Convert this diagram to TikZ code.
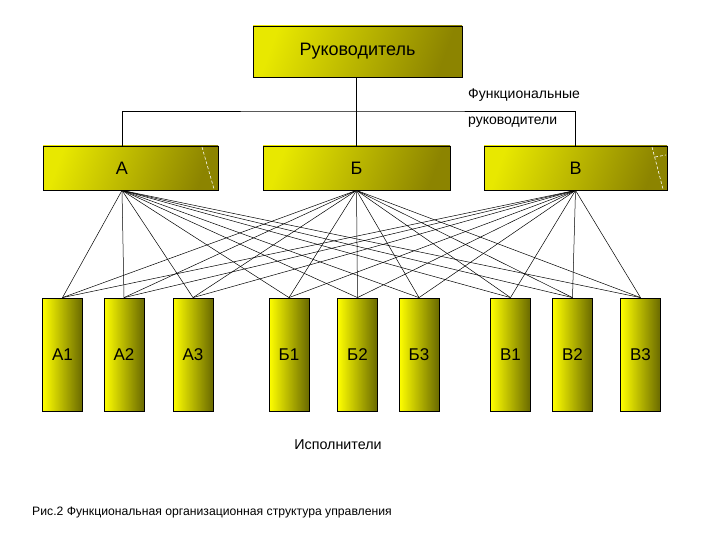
\documentclass[tikz,border=0pt]{standalone}
\usepackage{fontspec}
\setmainfont{Liberation Sans}
\usepackage{xcolor}
\usepackage{tikz}
\usetikzlibrary{
    positioning,
    calc
}
\definecolor{headYellow}{RGB}{232, 232, 0}
\definecolor{headOlive}{RGB}{140, 132, 0}
\definecolor{unitYellow}{RGB}{255, 255, 0}
\definecolor{unitOlive}{RGB}{105, 105, 0}

\begin{document}
\begin{tikzpicture}[x=1pt, y=-1pt,
        headbox/.style={draw, line width=0.8pt, left color=headYellow, right color=headOlive,
            shading angle=70, inner sep=0pt, font=\fontsize{18}{21}\selectfont},
        unitbox/.style={draw, line width=0.8pt, left color=unitYellow, middle color=unitYellow!92!black,
            right color=unitOlive, minimum width=40pt, minimum height=113pt,
            inner sep=0pt, font=\fontsize{17}{20}\selectfont},
        wire/.style={line width=0.5pt},
        seam/.style={white, line width=0.6pt, densely dashed}]
        \useasboundingbox (0,0) rectangle (720,540);

        % Head
        \node[headbox, minimum width=209pt, minimum height=51pt] (boss) at (357.5, 51.5) {Руководитель};

        % Functional managers
        \node[headbox, minimum width=175pt, minimum height=44pt] (a) at (130.5, 168) {};
        \node[font=\fontsize{18}{21}\selectfont, inner sep=0pt] (a-text) at ([xshift=-8.5pt]a.center) {А};
        \node[headbox, minimum width=187pt, minimum height=44pt] (b) at (356.5, 168) {Б};
        \node[headbox, minimum width=183pt, minimum height=44pt] (v) at (575.5, 168) {В};
        \draw[seam] (202, 147) -- (214, 189);
        \draw[seam] (652, 147) -- (663, 189);
        \draw[seam] (655, 157) -- (666, 155);

        \coordinate (a-in) at ([xshift=-8.5pt]a.north);
        \coordinate (a-out) at ([xshift=-8.5pt]a.south);
        \coordinate (b-out) at (b.south);
        \coordinate (v-out) at (v.south);
        \coordinate (bus) at (356.5, 111);
        \draw[line width=0.8pt] (b.north) -- (b.north |- boss.south);
        \draw[line width=0.8pt] (a-in) |- (bus) -| (v.north);
        \node[anchor=west, inner sep=0pt, font=\fontsize{14}{16}\selectfont] (func1) at (468, 95) {Функциональные};
        \node[anchor=west, inner sep=0pt, font=\fontsize{14}{16}\selectfont] (func2) at (468, 122) {руководители};

        % Executors
        \foreach \n/\t/\x in {a1/А1/62.5, a2/А2/124, a3/А3/193, b1/Б1/289, b2/Б2/357.5,
                b3/Б3/419, v1/В1/510.5, v2/В2/572.5, v3/В3/640.5}
            \node[unitbox] (\n) at (\x, 354.5) {\t};

        \foreach \u in {a, b, v}
            \foreach \n in {a1, a2, a3, b1, b2, b3, v1, v2, v3}
                \draw[wire] (\u-out) -- (\n.north);

        \node[font=\fontsize{14.3}{16}\selectfont, inner sep=0pt] (workers) at (338, 445) {Исполнители};
        \node[anchor=west, inner sep=0pt, font=\fontsize{12.2}{14}\selectfont] (caption) at (32, 513)
            {Рис.2 Функциональная организационная структура управления};
    \end{tikzpicture}
\end{document}
